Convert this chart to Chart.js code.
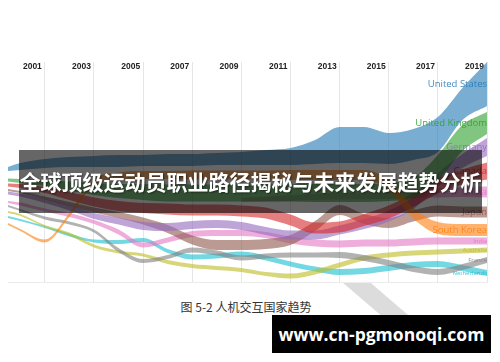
<!DOCTYPE html>
<html lang="zh">
<head>
  <meta charset="UTF-8">
  <title>人机交互国家趋势</title>
  <script src="https://cdn.jsdelivr.net/npm/chart.js"></script>
  <style>
    body {
      margin: 0;
      width: 500px;
      height: 362px;
      background: #fff;
      position: relative;
      overflow: hidden;
      font-family: "Noto Sans CJK SC", sans-serif;
    }

    #wrap {
      position: absolute;
      left: 0;
      top: 0;
      width: 500px;
      height: 290px;
    }

    .stroke {
      position: absolute;
      left: 0;
      top: 283px;
    }

    /* banda oscura con el titular */
    .banner {
      position: absolute;
      left: 19px;
      top: 150px;
      width: 463px;
      height: 63px;
      background: rgba(0, 0, 0, 0.6);
      color: #fff;
      font-weight: bold;
      font-size: 21px;
      line-height: 63px;
      text-align: center;
      white-space: nowrap;
      text-shadow: 1px 1px 2px rgba(0, 0, 0, 0.5);
    }

    .caption {
      position: absolute;
      left: 0;
      top: 298px;
      width: 492px;
      text-align: center;
      font-size: 12px;
      color: #333;
    }

    .site {
      position: absolute;
      left: 272px;
      top: 315px;
      width: 219px;
      height: 38px;
      background: #000;
      color: #fff;
      font-family: "Open Sans", sans-serif;
      font-weight: bold;
      font-size: 17.5px;
      line-height: 38px;
      text-align: center;
    }
  </style>
</head>
<body>

  <svg class="stroke" width="500" height="79">
    <line x1="336" y1="-18" x2="420" y2="54" stroke="#dcdcdc" stroke-width="18"/>
  </svg>

  <div id="wrap"><canvas id="chart"></canvas></div>

  <div class="banner">全球顶级运动员职业路径揭秘与未来发展趋势分析</div>
  <div class="caption">图 5-2 人机交互国家趋势</div>
  <div class="site">www.cn-pgmonoqi.com</div>

  <script>
    const years = [1999.5, 2000, 2001, 2002, 2003, 2004, 2005, 2006, 2007, 2008, 2009,
                   2010, 2011, 2012, 2013, 2014, 2015, 2016, 2017, 2018, 2019];
    const tickYears = [2001, 2003, 2005, 2007, 2009, 2011, 2013, 2015, 2017, 2019];

    const countries = ['United States', 'South Korea', 'United Kingdom', 'Canada', 'Germany',
                       'Japan', 'India', 'France', 'Australia', 'Netherlands', 'China'];
    const colors = ['#1f77b4', '#ff7f0e', '#2ca02c', '#d62728', '#9467bd',
                    '#8c564b', '#e377c2', '#7f7f7f', '#bcbd22', '#17becf', '#e377c2'];

    // posición (centro de la banda) y grosor por año
    const posUS = [169, 166.5, 163.5, 162, 161.5, 161, 160.5, 160, 160, 159, 158.5, 157.5, 156.5, 152, 145, 145, 148.5, 144.5, 134.5, 104, 84];
    const sizeUS = [4, 7, 9, 10, 11, 12, 11, 12, 12, 12, 13, 15, 17, 24, 36, 36, 31, 31, 35, 32, 44];

    const posKR = [224, 230, 241, 215, 182, 176, 175, 175, 175, 175, 175, 175, 175, 175, 175, 175, 185, 213, 228, 230, 230];
    const sizeKR = [2, 2, 3, 4, 6, 7, 8, 8, 9, 9, 9, 9, 10, 10, 10, 10, 10, 11, 12, 12, 12];

    const posUK = [180, 181, 183, 186, 189, 191, 192, 193, 193, 193, 193, 193, 193, 193, 193, 193, 192, 188, 168, 138, 123];
    const sizeUK = [3, 4, 6, 9, 12, 14, 16, 17, 17, 17, 17, 17, 17, 18, 18, 18, 18, 20, 26, 26, 22];

    const posCA = [185, 186, 190, 196, 202, 206, 208, 209, 210, 210, 211, 213, 220, 228, 227, 220, 212, 200, 186, 177, 171];
    const sizeCA = [3, 4, 6, 8, 9, 10, 10, 11, 11, 11, 11, 11, 11, 11, 11, 12, 13, 14, 15, 15, 17];

    const posDE = [193, 195, 201, 208, 216, 221, 226, 227, 225, 224, 226, 231, 235, 235, 230, 224, 216, 203, 180, 161, 147];
    const sizeDE = [3, 3, 4, 5, 6, 7, 8, 8, 8, 8, 8, 8, 9, 9, 9, 10, 11, 12, 14, 14, 18];

    const posJP = [190, 192, 198, 204, 210, 215, 221, 229, 240, 245, 245, 244, 240, 226, 210, 219, 223, 216, 211, 212, 212];
    const sizeJP = [2, 2, 3, 4, 5, 6, 7, 8, 9, 10, 10, 10, 10, 10, 10, 10, 10, 11, 11, 11, 11];

    const posIN = [202, 204, 210, 215, 222, 232, 245, 240, 234, 233, 233, 235, 240, 243, 244, 243, 243, 242, 241, 241, 241];
    const sizeIN = [2, 3, 3, 4, 4, 5, 5, 5, 6, 6, 6, 6, 7, 7, 7, 7, 7, 7, 7, 7, 7];

    const posFR = [206, 210, 218, 223, 231, 250, 261, 257, 250, 253, 258, 256, 255, 255, 255, 258, 263, 269, 272, 267, 260];
    const sizeFR = [2, 2, 3, 3, 3, 4, 4, 4, 5, 5, 5, 5, 5, 5, 6, 6, 6, 6, 6, 6, 6];

    const posAU = [212, 215, 226, 234, 246, 252, 255, 262, 266, 268, 270, 274, 276, 272, 265, 258, 255, 253, 252, 251, 250];
    const sizeAU = [2, 2, 2, 3, 3, 3, 3, 4, 4, 4, 4, 4, 5, 5, 5, 5, 5, 5, 5, 5, 5];

    const posNL = [217, 220, 227, 235, 241, 242, 240, 251, 257, 256, 254, 258, 264, 269, 272, 271, 268, 265, 264, 268, 273];
    const sizeNL = [2, 2, 2, 3, 3, 4, 4, 4, 5, 5, 5, 5, 5, 5, 6, 6, 6, 6, 6, 6, 6];

    const posCN = [null, null, null, null, null, null, null, null, null, null, 200, 199, 198, 197, 196, 196, 195, 194, 193, 192, 192];
    const sizeCN = [null, null, null, null, null, null, null, null, null, null, 4, 5, 6, 6, 7, 7, 8, 8, 9, 10, 11];

    const positions = [posUS, posKR, posUK, posCA, posDE, posJP, posIN, posFR, posAU, posNL, posCN];
    const sizes = [sizeUS, sizeKR, sizeUK, sizeCA, sizeDE, sizeJP, sizeIN, sizeFR, sizeAU, sizeNL, sizeCN];

    function fade(hex, a) {
      const n = parseInt(hex.slice(1), 16);
      return `rgba(${n >> 16}, ${(n >> 8) & 255}, ${n & 255}, ${a})`;
    }

    // cada banda = borde superior + borde inferior rellenado hasta el anterior
    const datasets = [];
    countries.forEach((name, i) => {
      const pos = positions[i], size = sizes[i];
      const edge = sign => years.map((yr, k) => ({
        x: yr,
        y: pos[k] == null ? null : pos[k] + sign * size[k] / 2
      }));
      datasets.push({ label: name + ' top', data: edge(-1), fill: false,
                      borderColor: 'transparent', borderWidth: 0, pointRadius: 0 });
      datasets.push({ label: name, data: edge(1), fill: '-1',
                      borderColor: 'transparent', borderWidth: 0, pointRadius: 0,
                      backgroundColor: fade(colors[i], 0.6) });
    });

    const endLabels = {
      id: 'endLabels',
      afterDatasetsDraw(chart) {
        const { ctx, scales: { x, y } } = chart;
        const last = years.length - 1;
        ctx.save();
        ctx.textAlign = 'right';
        ctx.textBaseline = 'middle';
        countries.forEach((name, i) => {
          const s = sizes[i][last];
          const fs = s >= 10 ? 9.5 : 6;
          ctx.font = `${fs}px "Open Sans"`;
          ctx.fillStyle = fade(colors[i], 0.85);
          ctx.fillText(name, x.getPixelForValue(years[last]), y.getPixelForValue(positions[i][last]));
        });
        ctx.restore();
      }
    };

    new Chart(document.getElementById('chart'), {
      type: 'line',
      data: { datasets },
      options: {
        responsive: true,
        maintainAspectRatio: false,
        animation: false,
        layout: { padding: { left: 8, right: 13, top: 62, bottom: 8 } },
        elements: { line: { cubicInterpolationMode: 'monotone' } },
        plugins: {
          legend: { display: false },
          tooltip: { enabled: false }
        },
        scales: {
          x: {
            type: 'linear',
            position: 'top',
            min: 1999.5,
            max: 2019,
            afterBuildTicks: ax => { ax.ticks = tickYears.map(v => ({ value: v })); },
            afterFit: ax => { ax.height = 0; },
            grid: { color: '#e6e6e6', drawTicks: false },
            border: { display: false },
            ticks: {
              align: 'end',
              mirror: true,
              padding: 0,
              labelOffset: -3,
              maxRotation: 0,
              autoSkip: false,
              color: '#222',
              font: { family: 'Liberation Sans', weight: 'bold', size: 8.5 },
              callback: v => String(v)
            }
          },
          xb: {
            type: 'linear',
            position: 'bottom',
            min: 1999.5,
            max: 2019,
            afterFit: ax => { ax.height = 0; },
            ticks: { display: false },
            grid: { display: false, drawTicks: false },
            border: { color: '#ececec' }
          },
          y: { display: false, reverse: true, min: 62, max: 282 }
        }
      },
      plugins: [endLabels]
    });
  </script>

</body>
</html>
